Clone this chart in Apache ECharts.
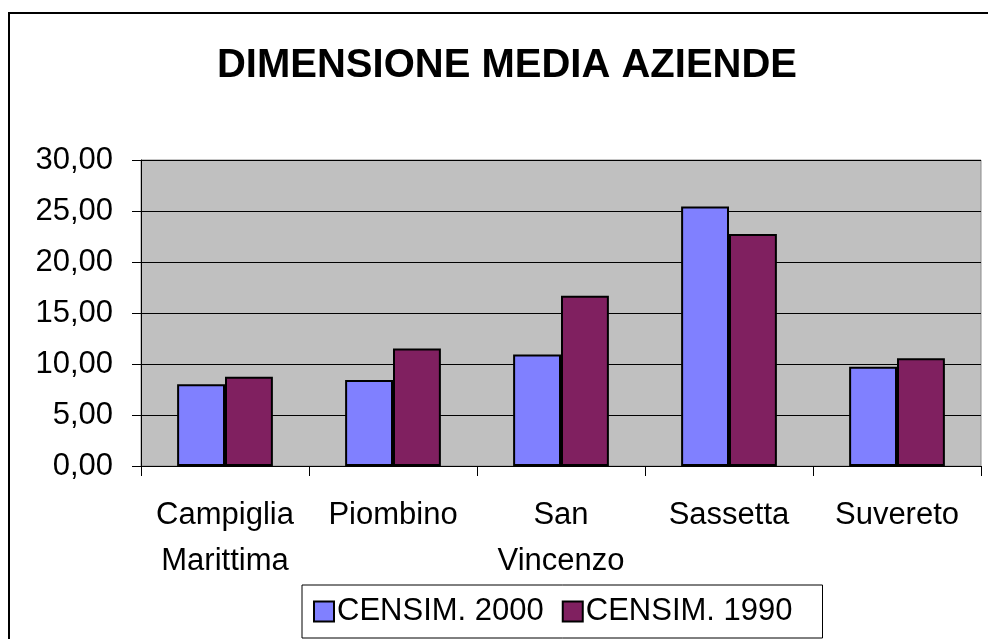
<!DOCTYPE html>
<html>
<head>
<meta charset="utf-8">
<script src="https://cdn.jsdelivr.net/npm/echarts@6/dist/echarts.min.js"></script>
<style>
  html, body { margin: 0; padding: 0; background: #fff; }
  #chart { width: 988px; height: 639px; }
</style>
</head>
<body>
<div id="chart"></div>
<script>
// comuni
const categories = ["Campiglia\nMarittima", "Piombino", "San\nVincenzo", "Sassetta", "Suvereto"];
const censim2000 = [8.02, 8.44, 10.92, 25.45, 9.74];
const censim1990 = [8.76, 11.51, 16.68, 22.74, 10.57];
const seriesNames = ["CENSIM. 2000", "CENSIM. 1990"];
const yTicks = { min: 0, max: 30, interval: 5 };

const FONT = "Liberation Sans, Arial, sans-serif";

let chart = echarts.init(document.getElementById("chart"));

chart.setOption({
  backgroundColor: "#ffffff",
  animation: false,
  title: {
    text: "DIMENSIONE MEDIA AZIENDE",
    left: 507,
    textAlign: "center",
    top: 46,
    padding: 0,
    textStyle: { fontFamily: FONT, fontSize: 40, fontWeight: "bold", color: "#000", lineHeight: 40 }
  },
  graphic: [
    {
      type: "rect",
      shape: { x: 9, y: 13, width: 1200, height: 900 },
      style: { fill: "none", stroke: "#000", lineWidth: 2 },
      silent: true,
      z: 100
    }
  ],
  grid: {
    left: 141,
    right: 7,
    top: 160,
    bottom: 173,
    show: true,
    backgroundColor: "#c0c0c0",
    borderColor: "#8c8c8c",
    borderWidth: 1
  },
  legend: {
    data: seriesNames,
    left: 302,
    top: 585,
    padding: [11, 30, 11, 11],
    itemGap: 18,
    itemWidth: 20,
    itemHeight: 20,
    icon: "rect",
    borderColor: "#000",
    borderWidth: 1,
    textStyle: { fontFamily: FONT, fontSize: 31, color: "#000", padding: [0, 0, 0, -2] }
  },
  xAxis: {
    type: "category",
    data: categories,
    axisLine: { lineStyle: { color: "#000", width: 1 } },
    axisTick: { show: true, length: 10, lineStyle: { color: "#000" } },
    axisLabel: {
      fontFamily: FONT,
      fontSize: 31,
      color: "#000",
      lineHeight: 46,
      margin: 26,
      interval: 0
    }
  },
  yAxis: {
    type: "value",
    min: yTicks.min,
    max: yTicks.max,
    interval: yTicks.interval,
    axisLine: { show: true, lineStyle: { color: "#000", width: 1 } },
    axisTick: { show: true, length: 9, lineStyle: { color: "#000" } },
    splitLine: { show: true, lineStyle: { color: "#000", width: 1 } },
    axisLabel: {
      fontFamily: FONT,
      fontSize: 31,
      color: "#000",
      margin: 28,
      formatter: v => v.toFixed(2).replace(".", ",")
    }
  },
  series: [
    {
      name: seriesNames[0],
      type: "bar",
      data: censim2000,
      barGap: "0%",
      barCategoryGap: "43%",
      itemStyle: { color: "#8080ff", borderColor: "#000", borderWidth: 2 }
    },
    {
      name: seriesNames[1],
      type: "bar",
      data: censim1990,
      barGap: "0%",
      barCategoryGap: "43%",
      itemStyle: { color: "#802060", borderColor: "#000", borderWidth: 2 }
    }
  ]
});
</script>
</body>
</html>
